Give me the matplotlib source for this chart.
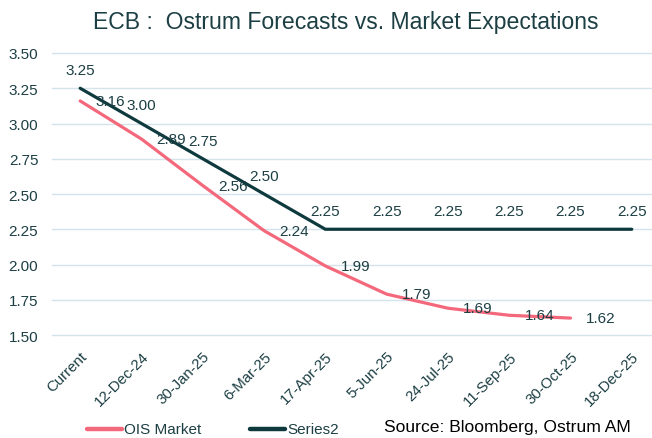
import numpy as np
import matplotlib.pyplot as plt
from matplotlib.lines import Line2D

# ---- data ----
dates = ['Current', '12-Dec-24', '30-Jan-25', '6-Mar-25', '17-Apr-25', '5-Jun-25',
         '24-Jul-25', '11-Sep-25', '30-Oct-25', '18-Dec-25']
ois_market = [3.16, 2.89, 2.56, 2.24, 1.99, 1.79, 1.69, 1.64, 1.62]
series2 = [3.25, 3.00, 2.75, 2.50, 2.25, 2.25, 2.25, 2.25, 2.25, 2.25]
y_ticks = [1.50, 1.75, 2.00, 2.25, 2.50, 2.75, 3.00, 3.25, 3.50]

# ---- style ----
plt.rcParams['font.family'] = ['Liberation Sans', 'DejaVu Sans']
txt = '#1C3F44'
pink = '#F4687C'
dark = '#0E3A3E'
grid = '#D5E3EB'

W, H = 652, 439
fig = plt.figure(figsize=(W / 100, H / 100), dpi=100)
ax = fig.add_axes([0.08, 0.2346, 0.92, 0.6424])

x = np.arange(len(dates))
for yv in y_ticks:
    ax.axhline(yv, color=grid, lw=1.0, zorder=0, clip_on=False)

ax.plot(x[:len(ois_market)], ois_market, color=pink, lw=2.3, solid_capstyle='round', zorder=3)
ax.plot(x, series2, color=dark, lw=2.3, solid_capstyle='round', zorder=3)

# data labels
for xi, v in zip(x, ois_market):
    ax.annotate(f'{v:.2f}', (xi, v), xytext=(11, 0), textcoords='offset points',
                ha='left', va='center', fontsize=11, color=txt, zorder=4)
for xi, v in zip(x, series2):
    ax.annotate(f'{v:.2f}', (xi, v), xytext=(0, 13), textcoords='offset points',
                ha='center', va='center', fontsize=11, color=txt, zorder=4)

ax.set_xlim(-0.457, 9.33)
ax.set_ylim(1.5, 3.5)
ax.set_yticks(y_ticks)
ax.set_yticklabels([f'{v:.2f}' for v in y_ticks], fontsize=11, color=txt)
ax.set_xticks(x)
ax.set_xticklabels(dates, rotation=45, ha='right', rotation_mode='anchor',
                   fontsize=10.8, color=txt)
ax.tick_params(axis='both', length=0)
ax.tick_params(axis='y', pad=10)
ax.tick_params(axis='x', pad=10)
for s in ax.spines.values():
    s.set_visible(False)

fig.text(346 / W, 1 - 22 / H, 'ECB :  Ostrum Forecasts vs. Market Expectations',
         ha='center', va='center', fontsize=16.6, color=txt)

# legend + source
ly = 1 - 430 / H
fig.add_artist(Line2D([87 / W, 122 / W], [ly, ly], color=pink, lw=3.2,
                      solid_capstyle='round', transform=fig.transFigure))
fig.text(124 / W, ly, 'OIS Market', ha='left', va='center', fontsize=11, color=txt)
fig.add_artist(Line2D([250 / W, 285 / W], [ly, ly], color=dark, lw=3.2,
                      solid_capstyle='round', transform=fig.transFigure))
fig.text(287 / W, ly, 'Series2', ha='left', va='center', fontsize=11, color=txt)
fig.text(384 / W, 1 - 428 / H, 'Source: Bloomberg, Ostrum AM', ha='left', va='center',
         fontsize=12.6, color='black')

plt.savefig('out.png', dpi=100)
plt.close(fig)
